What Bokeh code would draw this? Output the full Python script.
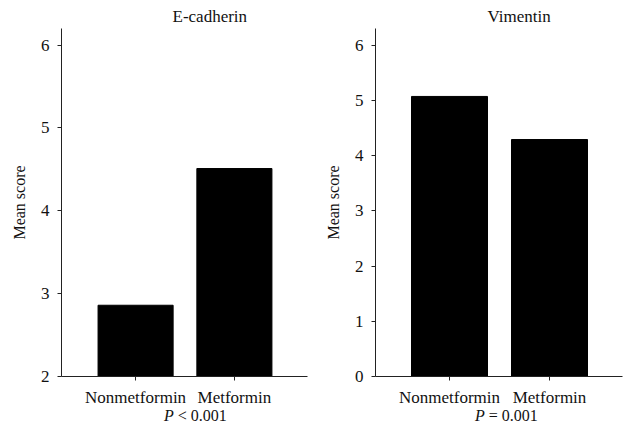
from bokeh.plotting import figure
from bokeh.layouts import row, column
from bokeh.models import Range1d, FixedTicker, Title, Div
from bokeh.embed import file_html
from bokeh.resources import INLINE

categories = ["Nonmetformin", "Metformin"]
ecad_values = [2.86, 4.51]
vim_values = [5.07, 4.29]
ecad_ticks = [2, 3, 4, 5, 6]
vim_ticks = [0, 1, 2, 3, 4, 5, 6]
titles = ["E-cadherin", "Vimentin"]
p_ops = ["&lt;", "="]
p_vals = ["0.001", "0.001"]

FONT = "Liberation Serif"
xs = [1, 2]


def make_panel(values, yticks, ystart, yend, xstart, xend, bl, fw, br, title,
               title_off):
    p = figure(width=bl + fw + br, height=410,
               output_backend="svg", toolbar_location=None,
               x_range=Range1d(xstart, xend), y_range=Range1d(ystart, yend),
               min_border_left=bl, min_border_right=br, min_border_top=28,
               min_border_bottom=34)
    p.vbar(x=xs, top=values, bottom=ystart, width=0.76, color="black")
    p.xgrid.visible = False
    p.ygrid.visible = False
    p.outline_line_color = None
    p.background_fill_color = "white"
    p.border_fill_color = "white"
    for ax in (p.xaxis[0], p.yaxis[0]):
        ax.axis_line_color = "#222222"
        ax.major_tick_line_color = "#222222"
        ax.major_tick_out = 4
        ax.major_tick_in = 0
        ax.minor_tick_line_color = None
        ax.major_label_text_font = FONT
        ax.major_label_text_font_size = "17px"
        ax.major_label_text_color = "#111111"
    p.xaxis.ticker = FixedTicker(ticks=xs)
    p.xaxis.major_label_overrides = {x: c for x, c in zip(xs, categories)}
    p.xaxis.major_label_standoff = 7
    p.yaxis.ticker = FixedTicker(ticks=yticks)
    p.yaxis.major_label_standoff = 8
    p.yaxis.axis_label = "Mean score"
    p.yaxis.axis_label_text_font = FONT
    p.yaxis.axis_label_text_font_style = "normal"
    p.yaxis.axis_label_text_font_size = "16px"
    p.yaxis.axis_label_text_color = "#111111"
    p.yaxis.axis_label_standoff = 10
    p.title = Title(text=title, align="left", offset=title_off,
                    text_font=FONT, text_font_size="17px",
                    text_font_style="normal", text_color="#111111", standoff=6)
    return p


def make_ptext(op, val, width, pad):
    return Div(text=f"<i>P</i> {op} {val}", width=width, height=26,
               styles={"font-family": FONT, "font-size": "16px",
                       "color": "#111111", "padding-left": f"{pad}px",
                       "line-height": "12px", "margin": "0"})


p1 = make_panel(ecad_values, ecad_ticks, 2, 6.2, 0.25, 2.74, 61, 246, 9,
                titles[0], 111)
p2 = make_panel(vim_values, vim_ticks, 0, 6.3, 0.26, 2.73, 59, 247, 2,
                titles[1], 112)
d1 = make_ptext(p_ops[0], p_vals[0], 316, 164)
d2 = make_ptext(p_ops[1], p_vals[1], 308, 159)

layout = column(row(p1, p2), row(d1, d2))
open("out.html", "w").write(file_html(layout, INLINE))
